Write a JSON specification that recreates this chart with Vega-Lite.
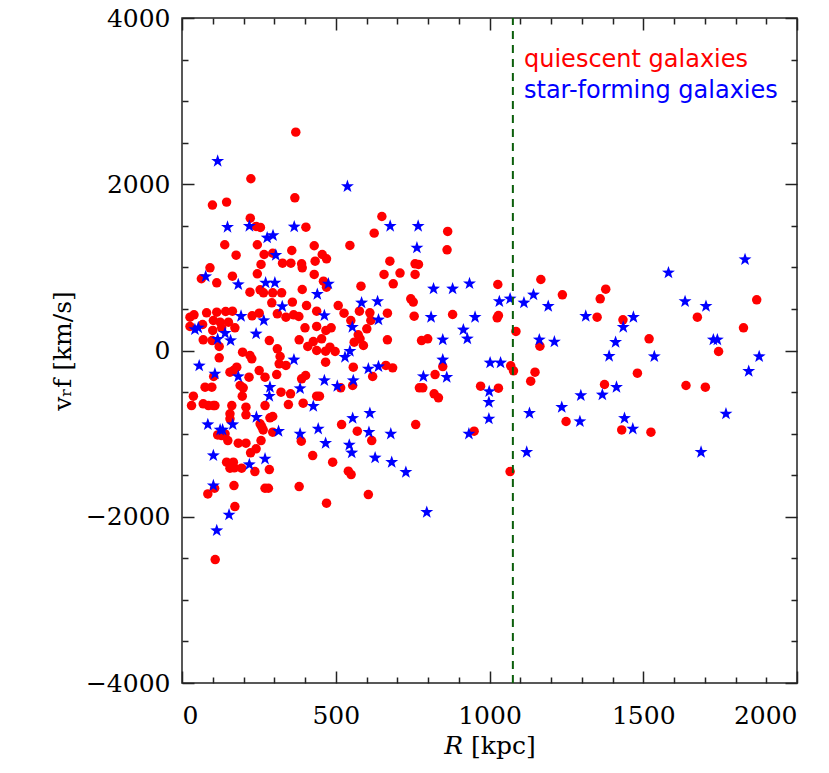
{
  "$schema": "https://vega.github.io/schema/vega-lite/v6.json",
  "width": 615,
  "height": 665,
  "autosize": {"type": "none"},
  "padding": {"left": 182, "top": 18, "right": 32, "bottom": 90},
  "background": "white",
  "config": {
    "view": {"stroke": "#222222", "strokeWidth": 1.5},
    "axis": {
      "domain": false, "grid": false, "tickColor": "#222222", "tickWidth": 1.5,
      "labelFont": "DejaVu Serif", "labelFontSize": 25, "labelColor": "black",
      "titleFont": "DejaVu Serif", "titleFontSize": 25, "titleFontWeight": "normal", "titleColor": "black"
    }
  },
  "resolve": {"axis": {"x": "independent", "y": "independent"}},
  "layer": [
    {
      "data": {"values": [
      {"R":370,"v":2627,"type":"quiescent"},{"R":224,"v":2066,"type":"quiescent"},{"R":99,"v":1749,"type":"quiescent"},{"R":145,"v":1785,"type":"quiescent"},{"R":367,"v":1837,"type":"quiescent"},{"R":222,"v":1592,"type":"quiescent"},{"R":241,"v":1492,"type":"quiescent"},{"R":255,"v":1480,"type":"quiescent"},{"R":403,"v":1484,"type":"quiescent"},{"R":139,"v":1272,"type":"quiescent"},{"R":245,"v":1272,"type":"quiescent"},{"R":430,"v":1260,"type":"quiescent"},{"R":176,"v":1147,"type":"quiescent"},{"R":267,"v":1155,"type":"quiescent"},{"R":357,"v":1203,"type":"quiescent"},{"R":295,"v":1170,"type":"quiescent"},{"R":456,"v":1155,"type":"quiescent"},{"R":470,"v":1103,"type":"quiescent"},
      {"R":91,"v":995,"type":"quiescent"},{"R":63,"v":863,"type":"quiescent"},{"R":113,"v":814,"type":"quiescent"},{"R":164,"v":894,"type":"quiescent"},{"R":257,"v":1035,"type":"quiescent"},{"R":245,"v":923,"type":"quiescent"},{"R":327,"v":1051,"type":"quiescent"},{"R":354,"v":1051,"type":"quiescent"},{"R":389,"v":1043,"type":"quiescent"},{"R":391,"v":995,"type":"quiescent"},{"R":433,"v":1075,"type":"quiescent"},{"R":430,"v":915,"type":"quiescent"},{"R":460,"v":834,"type":"quiescent"},{"R":221,"v":702,"type":"quiescent"},{"R":254,"v":730,"type":"quiescent"},{"R":265,"v":694,"type":"quiescent"},{"R":295,"v":694,"type":"quiescent"},{"R":324,"v":694,"type":"quiescent"},{"R":391,"v":734,"type":"quiescent"},{"R":292,"v":574,"type":"quiescent"},{"R":359,"v":582,"type":"quiescent"},{"R":405,"v":541,"type":"quiescent"},{"R":438,"v":473,"type":"quiescent"},{"R":39,"v":429,"type":"quiescent"},{"R":26,"v":401,"type":"quiescent"},{"R":80,"v":453,"type":"quiescent"},{"R":113,"v":461,"type":"quiescent"},{"R":142,"v":469,"type":"quiescent"},{"R":164,"v":473,"type":"quiescent"},{"R":228,"v":417,"type":"quiescent"},{"R":251,"v":449,"type":"quiescent"},{"R":310,"v":441,"type":"quiescent"},{"R":338,"v":401,"type":"quiescent"},{"R":363,"v":429,"type":"quiescent"},{"R":380,"v":409,"type":"quiescent"},{"R":102,"v":361,"type":"quiescent"},{"R":124,"v":341,"type":"quiescent"},{"R":151,"v":341,"type":"quiescent"},{"R":129,"v":273,"type":"quiescent"},{"R":26,"v":289,"type":"quiescent"},{"R":67,"v":313,"type":"quiescent"},{"R":100,"v":241,"type":"quiescent"},{"R":172,"v":273,"type":"quiescent"},{"R":400,"v":273,"type":"quiescent"},{"R":438,"v":289,"type":"quiescent"},{"R":468,"v":241,"type":"quiescent"},{"R":69,"v":129,"type":"quiescent"},{"R":98,"v":120,"type":"quiescent"},{"R":284,"v":120,"type":"quiescent"},{"R":381,"v":129,"type":"quiescent"},{"R":427,"v":108,"type":"quiescent"},{"R":454,"v":141,"type":"quiescent"},{"R":121,"v":48,"type":"quiescent"},{"R":310,"v":20,"type":"quiescent"},{"R":409,"v":48,"type":"quiescent"},{"R":438,"v":0,"type":"quiescent"},{"R":467,"v":-8,"type":"quiescent"},{"R":197,"v":-20,"type":"quiescent"},{"R":221,"v":-60,"type":"quiescent"},{"R":227,"v":-100,"type":"quiescent"},{"R":121,"v":-88,"type":"quiescent"},{"R":319,"v":-72,"type":"quiescent"},{"R":316,"v":-160,"type":"quiescent"},{"R":467,"v":-140,"type":"quiescent"},{"R":178,"v":-201,"type":"quiescent"},{"R":167,"v":-241,"type":"quiescent"},{"R":156,"v":-261,"type":"quiescent"},{"R":251,"v":-241,"type":"quiescent"},{"R":338,"v":-180,"type":"quiescent"},{"R":308,"v":-289,"type":"quiescent"},{"R":103,"v":-313,"type":"quiescent"},{"R":218,"v":-321,"type":"quiescent"},{"R":270,"v":-321,"type":"quiescent"},{"R":402,"v":-301,"type":"quiescent"},{"R":389,"v":-341,"type":"quiescent"},{"R":75,"v":-441,"type":"quiescent"},{"R":97,"v":-441,"type":"quiescent"},{"R":189,"v":-421,"type":"quiescent"},{"R":199,"v":-449,"type":"quiescent"},{"R":322,"v":-501,"type":"quiescent"},{"R":353,"v":-521,"type":"quiescent"},{"R":196,"v":-549,"type":"quiescent"},{"R":37,"v":-549,"type":"quiescent"},{"R":438,"v":-549,"type":"quiescent"},{"R":447,"v":-549,"type":"quiescent"},
      {"R":31,"v":-662,"type":"quiescent"},{"R":69,"v":-642,"type":"quiescent"},{"R":86,"v":-662,"type":"quiescent"},{"R":102,"v":-662,"type":"quiescent"},{"R":107,"v":-662,"type":"quiescent"},{"R":162,"v":-662,"type":"quiescent"},{"R":208,"v":-682,"type":"quiescent"},{"R":208,"v":-774,"type":"quiescent"},{"R":270,"v":-662,"type":"quiescent"},{"R":346,"v":-650,"type":"quiescent"},{"R":394,"v":-634,"type":"quiescent"},{"R":156,"v":-762,"type":"quiescent"},{"R":156,"v":-822,"type":"quiescent"},{"R":286,"v":-810,"type":"quiescent"},{"R":295,"v":-794,"type":"quiescent"},{"R":254,"v":-882,"type":"quiescent"},{"R":259,"v":-915,"type":"quiescent"},{"R":264,"v":-955,"type":"quiescent"},{"R":116,"v":-1016,"type":"quiescent"},{"R":129,"v":-1023,"type":"quiescent"},{"R":140,"v":-1003,"type":"quiescent"},{"R":149,"v":-1083,"type":"quiescent"},{"R":295,"v":-983,"type":"quiescent"},{"R":388,"v":-1091,"type":"quiescent"},{"R":257,"v":-1083,"type":"quiescent"},{"R":183,"v":-1115,"type":"quiescent"},{"R":208,"v":-1115,"type":"quiescent"},{"R":241,"v":-1183,"type":"quiescent"},{"R":223,"v":-1231,"type":"quiescent"},{"R":425,"v":-1264,"type":"quiescent"},{"R":145,"v":-1344,"type":"quiescent"},{"R":167,"v":-1344,"type":"quiescent"},{"R":156,"v":-1416,"type":"quiescent"},{"R":170,"v":-1412,"type":"quiescent"},{"R":194,"v":-1416,"type":"quiescent"},{"R":237,"v":-1456,"type":"quiescent"},{"R":284,"v":-1432,"type":"quiescent"},{"R":106,"v":-1657,"type":"quiescent"},{"R":84,"v":-1725,"type":"quiescent"},{"R":169,"v":-1625,"type":"quiescent"},{"R":270,"v":-1657,"type":"quiescent"},{"R":281,"v":-1657,"type":"quiescent"},{"R":381,"v":-1637,"type":"quiescent"},{"R":172,"v":-1877,"type":"quiescent"},{"R":108,"v":-2515,"type":"quiescent"},
      {"R":650,"v":1612,"type":"quiescent"},{"R":625,"v":1412,"type":"quiescent"},{"R":864,"v":1432,"type":"quiescent"},{"R":546,"v":1264,"type":"quiescent"},{"R":862,"v":1211,"type":"quiescent"},
      {"R":676,"v":1075,"type":"quiescent"},{"R":758,"v":1043,"type":"quiescent"},{"R":769,"v":1035,"type":"quiescent"},{"R":657,"v":915,"type":"quiescent"},{"R":709,"v":931,"type":"quiescent"},{"R":758,"v":915,"type":"quiescent"},{"R":687,"v":802,"type":"quiescent"},{"R":470,"v":762,"type":"quiescent"},{"R":582,"v":774,"type":"quiescent"},{"R":744,"v":622,"type":"quiescent"},{"R":752,"v":582,"type":"quiescent"},{"R":508,"v":541,"type":"quiescent"},{"R":577,"v":473,"type":"quiescent"},{"R":611,"v":453,"type":"quiescent"},{"R":527,"v":449,"type":"quiescent"},{"R":668,"v":449,"type":"quiescent"},{"R":755,"v":413,"type":"quiescent"},{"R":880,"v":433,"type":"quiescent"},{"R":549,"v":361,"type":"quiescent"},{"R":614,"v":361,"type":"quiescent"},{"R":485,"v":273,"type":"quiescent"},{"R":601,"v":261,"type":"quiescent"},{"R":573,"v":189,"type":"quiescent"},{"R":579,"v":141,"type":"quiescent"},{"R":560,"v":100,"type":"quiescent"},{"R":590,"v":60,"type":"quiescent"},{"R":668,"v":129,"type":"quiescent"},{"R":779,"v":120,"type":"quiescent"},{"R":799,"v":141,"type":"quiescent"},{"R":481,"v":40,"type":"quiescent"},{"R":498,"v":-12,"type":"quiescent"},{"R":557,"v":-201,"type":"quiescent"},{"R":663,"v":-180,"type":"quiescent"},{"R":685,"v":-209,"type":"quiescent"},{"R":848,"v":-193,"type":"quiescent"},{"R":620,"v":-313,"type":"quiescent"},{"R":823,"v":-289,"type":"quiescent"},{"R":555,"v":-421,"type":"quiescent"},{"R":516,"v":-449,"type":"quiescent"},{"R":772,"v":-449,"type":"quiescent"},{"R":783,"v":-449,"type":"quiescent"},{"R":820,"v":-521,"type":"quiescent"},{"R":834,"v":-569,"type":"quiescent"},
      {"R":519,"v":-891,"type":"quiescent"},{"R":570,"v":-971,"type":"quiescent"},{"R":760,"v":-891,"type":"quiescent"},{"R":617,"v":-1083,"type":"quiescent"},{"R":490,"v":-1344,"type":"quiescent"},{"R":541,"v":-1452,"type":"quiescent"},{"R":550,"v":-1492,"type":"quiescent"},{"R":606,"v":-1733,"type":"quiescent"},{"R":470,"v":-1837,"type":"quiescent"},
      {"R":1027,"v":794,"type":"quiescent"},{"R":1167,"v":854,"type":"quiescent"},{"R":1237,"v":670,"type":"quiescent"},{"R":1378,"v":738,"type":"quiescent"},{"R":1360,"v":622,"type":"quiescent"},{"R":1350,"v":401,"type":"quiescent"},{"R":1434,"v":369,"type":"quiescent"},{"R":1029,"v":421,"type":"quiescent"},{"R":1025,"v":393,"type":"quiescent"},{"R":1086,"v":229,"type":"quiescent"},{"R":1164,"v":52,"type":"quiescent"},{"R":1069,"v":-184,"type":"quiescent"},{"R":1078,"v":-245,"type":"quiescent"},{"R":1148,"v":-261,"type":"quiescent"},{"R":1134,"v":-369,"type":"quiescent"},{"R":971,"v":-429,"type":"quiescent"},{"R":1029,"v":-453,"type":"quiescent"},{"R":1374,"v":-409,"type":"quiescent"},{"R":1481,"v":-273,"type":"quiescent"},{"R":1249,"v":-854,"type":"quiescent"},{"R":1430,"v":-955,"type":"quiescent"},{"R":950,"v":-971,"type":"quiescent"},{"R":1067,"v":-1456,"type":"quiescent"},
      {"R":1869,"v":610,"type":"quiescent"},{"R":1676,"v":401,"type":"quiescent"},{"R":1826,"v":273,"type":"quiescent"},{"R":1519,"v":141,"type":"quiescent"},{"R":1745,"v":-12,"type":"quiescent"},{"R":1639,"v":-421,"type":"quiescent"},{"R":1702,"v":-441,"type":"quiescent"},{"R":1525,"v":-983,"type":"quiescent"},
      {"R":116,"v":2278,"type":"star-forming"},{"R":148,"v":1484,"type":"star-forming"},{"R":219,"v":1496,"type":"star-forming"},{"R":365,"v":1488,"type":"star-forming"},{"R":277,"v":1356,"type":"star-forming"},{"R":296,"v":1384,"type":"star-forming"},{"R":305,"v":1147,"type":"star-forming"},
      {"R":77,"v":890,"type":"star-forming"},{"R":183,"v":794,"type":"star-forming"},{"R":272,"v":814,"type":"star-forming"},{"R":302,"v":814,"type":"star-forming"},{"R":476,"v":802,"type":"star-forming"},{"R":440,"v":677,"type":"star-forming"},{"R":326,"v":529,"type":"star-forming"},{"R":192,"v":413,"type":"star-forming"},{"R":266,"v":361,"type":"star-forming"},{"R":463,"v":421,"type":"star-forming"},{"R":42,"v":253,"type":"star-forming"},{"R":53,"v":273,"type":"star-forming"},{"R":140,"v":208,"type":"star-forming"},{"R":241,"v":201,"type":"star-forming"},{"R":116,"v":136,"type":"star-forming"},{"R":158,"v":120,"type":"star-forming"},{"R":364,"v":-112,"type":"star-forming"},{"R":56,"v":-184,"type":"star-forming"},{"R":107,"v":-281,"type":"star-forming"},{"R":183,"v":-313,"type":"star-forming"},{"R":463,"v":-361,"type":"star-forming"},{"R":286,"v":-441,"type":"star-forming"},{"R":384,"v":-457,"type":"star-forming"},{"R":284,"v":-549,"type":"star-forming"},
      {"R":427,"v":-670,"type":"star-forming"},{"R":242,"v":-802,"type":"star-forming"},{"R":84,"v":-891,"type":"star-forming"},{"R":165,"v":-891,"type":"star-forming"},{"R":124,"v":-955,"type":"star-forming"},{"R":132,"v":-955,"type":"star-forming"},{"R":314,"v":-971,"type":"star-forming"},{"R":384,"v":-1003,"type":"star-forming"},{"R":443,"v":-943,"type":"star-forming"},{"R":467,"v":-1115,"type":"star-forming"},{"R":102,"v":-1264,"type":"star-forming"},{"R":270,"v":-1304,"type":"star-forming"},{"R":219,"v":-1372,"type":"star-forming"},{"R":102,"v":-1625,"type":"star-forming"},{"R":153,"v":-1977,"type":"star-forming"},{"R":113,"v":-2166,"type":"star-forming"},
      {"R":538,"v":1974,"type":"star-forming"},{"R":677,"v":1496,"type":"star-forming"},{"R":768,"v":1496,"type":"star-forming"},{"R":764,"v":1235,"type":"star-forming"},
      {"R":818,"v":742,"type":"star-forming"},{"R":880,"v":742,"type":"star-forming"},{"R":935,"v":805,"type":"star-forming"},{"R":584,"v":574,"type":"star-forming"},{"R":636,"v":590,"type":"star-forming"},{"R":639,"v":369,"type":"star-forming"},{"R":810,"v":401,"type":"star-forming"},{"R":554,"v":281,"type":"star-forming"},{"R":915,"v":249,"type":"star-forming"},{"R":928,"v":141,"type":"star-forming"},{"R":848,"v":129,"type":"star-forming"},{"R":546,"v":-8,"type":"star-forming"},{"R":530,"v":-80,"type":"star-forming"},{"R":606,"v":-221,"type":"star-forming"},{"R":639,"v":-193,"type":"star-forming"},{"R":848,"v":-112,"type":"star-forming"},{"R":785,"v":-313,"type":"star-forming"},{"R":861,"v":-321,"type":"star-forming"},{"R":557,"v":-361,"type":"star-forming"},{"R":505,"v":-429,"type":"star-forming"},
      {"R":555,"v":-815,"type":"star-forming"},{"R":611,"v":-754,"type":"star-forming"},{"R":608,"v":-983,"type":"star-forming"},{"R":679,"v":-1003,"type":"star-forming"},{"R":933,"v":-1003,"type":"star-forming"},{"R":544,"v":-1136,"type":"star-forming"},{"R":552,"v":-1231,"type":"star-forming"},{"R":628,"v":-1291,"type":"star-forming"},{"R":682,"v":-1344,"type":"star-forming"},{"R":728,"v":-1464,"type":"star-forming"},{"R":796,"v":-1945,"type":"star-forming"},
      {"R":1032,"v":590,"type":"star-forming"},{"R":1067,"v":622,"type":"star-forming"},{"R":1112,"v":574,"type":"star-forming"},{"R":1143,"v":670,"type":"star-forming"},{"R":1191,"v":533,"type":"star-forming"},{"R":1313,"v":413,"type":"star-forming"},{"R":1468,"v":401,"type":"star-forming"},{"R":1435,"v":281,"type":"star-forming"},{"R":953,"v":401,"type":"star-forming"},{"R":1162,"v":129,"type":"star-forming"},{"R":1211,"v":104,"type":"star-forming"},{"R":1410,"v":100,"type":"star-forming"},{"R":1389,"v":-68,"type":"star-forming"},{"R":1002,"v":-148,"type":"star-forming"},{"R":1036,"v":-148,"type":"star-forming"},{"R":999,"v":-493,"type":"star-forming"},{"R":1413,"v":-441,"type":"star-forming"},{"R":1297,"v":-541,"type":"star-forming"},{"R":1367,"v":-533,"type":"star-forming"},{"R":998,"v":-622,"type":"star-forming"},{"R":1235,"v":-682,"type":"star-forming"},{"R":1130,"v":-754,"type":"star-forming"},{"R":998,"v":-822,"type":"star-forming"},{"R":1294,"v":-854,"type":"star-forming"},{"R":1439,"v":-815,"type":"star-forming"},{"R":1466,"v":-943,"type":"star-forming"},{"R":1121,"v":-1223,"type":"star-forming"},
      {"R":1831,"v":1095,"type":"star-forming"},{"R":1582,"v":935,"type":"star-forming"},{"R":1636,"v":590,"type":"star-forming"},{"R":1704,"v":533,"type":"star-forming"},{"R":1728,"v":129,"type":"star-forming"},{"R":1741,"v":129,"type":"star-forming"},{"R":1536,"v":-72,"type":"star-forming"},{"R":1877,"v":-72,"type":"star-forming"},{"R":1843,"v":-249,"type":"star-forming"},{"R":1769,"v":-762,"type":"star-forming"},{"R":1688,"v":-1223,"type":"star-forming"}
      ]},
      "mark": {"type": "point", "filled": true, "opacity": 1},
      "encoding": {
        "x": {"field": "R", "type": "quantitative", "scale": {"domain": [0, 2000], "nice": false, "zero": false},
              "axis": {"orient": "bottom", "format": "d",
                       "values": [0,100,200,300,400,500,600,700,800,900,1000,1100,1200,1300,1400,1500,1600,1700,1800,1900,2000],
                       "labelExpr": "datum.value % 500 === 0 ? datum.label : ''",
                       "tickSize": {"condition": {"test": "datum.value % 500 === 0", "value": -12}, "value": -6},
                       "labelPadding": 32, "titlePadding": 5, "title": "𝑅 [kpc]"}},
        "y": {"field": "v", "type": "quantitative", "scale": {"domain": [-4000, 4000], "nice": false, "zero": false},
              "axis": {"orient": "left", "format": "d",
                       "values": [-4000,-3500,-3000,-2500,-2000,-1500,-1000,-500,0,500,1000,1500,2000,2500,3000,3500,4000],
                       "labelExpr": "datum.value % 2000 === 0 ? datum.label : ''",
                       "tickSize": {"condition": {"test": "datum.value % 2000 === 0", "value": -12}, "value": -6},
                       "labelPadding": 24, "titlePadding": 10, "title": "vᵣf [km/s]"}},
        "color": {"field": "type", "type": "nominal",
                  "scale": {"domain": ["quiescent", "star-forming"], "range": ["#ff0000", "#0000ff"]},
                  "legend": {"orient": "none", "legendX": 318, "legendY": 30, "title": null,
                             "labelFont": "DejaVu Sans", "labelFontSize": 24, "labelExpr": "datum.label + ' galaxies'",
                             "symbolOpacity": 0, "symbolSize": 1, "symbolStrokeWidth": 0, "labelOffset": 0, "rowPadding": 7, "padding": 0,
                             "labelLimit": 400,
                             "encode": {"labels": {"update": {"fill": {"scale": "color", "field": "value"}}}}}},
        "shape": {"condition": {"test": "datum.type === 'quiescent'", "value": "circle"}, "value": "M0,-1L0.235,-0.324L0.951,-0.309L0.38,0.124L0.588,0.809L0,0.4L-0.588,0.809L-0.38,0.124L-0.951,-0.309L-0.235,-0.324Z"},
        "size": {"condition": {"test": "datum.type === 'quiescent'", "value": 90}, "value": 185}
      }
    },
    {
      "data": {"values": [{"R": 1076}]},
      "mark": {"type": "rule", "color": "#0b5e0b", "strokeWidth": 2, "strokeDash": [8, 6]},
      "encoding": {
        "x": {"field": "R", "type": "quantitative", "scale": {"domain": [0, 2000], "nice": false, "zero": false},
              "axis": {"orient": "top", "labels": false, "title": null,
                       "values": [0,100,200,300,400,500,600,700,800,900,1000,1100,1200,1300,1400,1500,1600,1700,1800,1900,2000],
                       "tickSize": {"condition": {"test": "datum.value % 500 === 0", "value": -12}, "value": -6}}},
        "y": {"datum": -4000, "type": "quantitative", "scale": {"domain": [-4000, 4000], "nice": false, "zero": false},
              "axis": {"orient": "right", "labels": false, "title": null,
                       "values": [-4000,-3500,-3000,-2500,-2000,-1500,-1000,-500,0,500,1000,1500,2000,2500,3000,3500,4000],
                       "tickSize": {"condition": {"test": "datum.value % 2000 === 0", "value": -12}, "value": -6}}},
        "y2": {"datum": 4000}
      }
    }
  ]
}
